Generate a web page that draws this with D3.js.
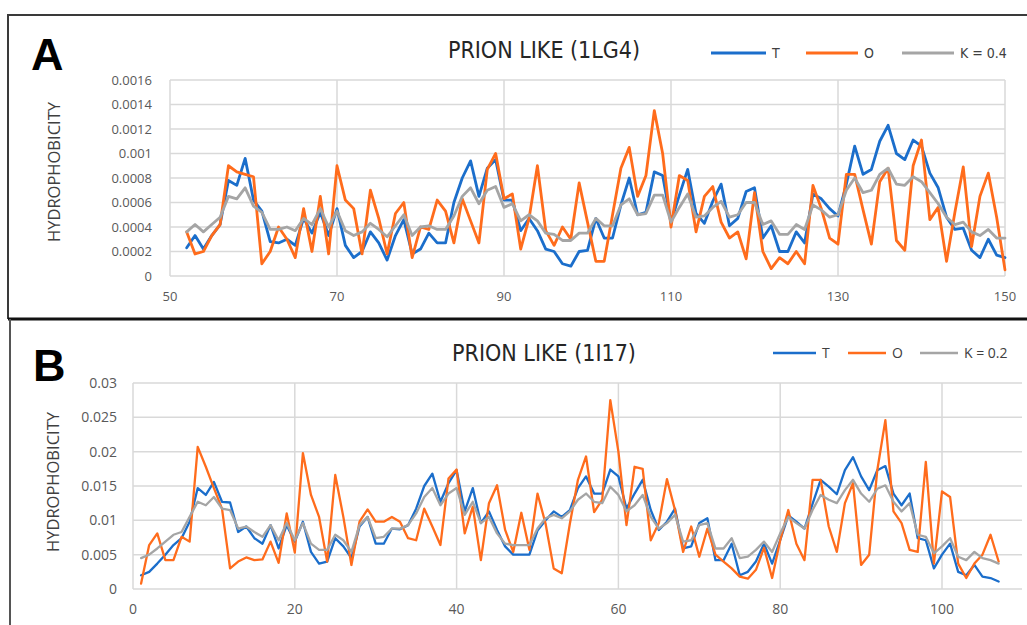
<!DOCTYPE html>
<html>
<head>
<meta charset="utf-8">
<script src="https://cdn.jsdelivr.net/npm/d3@7/dist/d3.min.js"></script>
<style>
  body { margin: 0; background: #fff; }
  svg { display: block; }
</style>
</head>
<body>
<div id="chart"></div>
<script>
// ---- Panel A : PRION LIKE (1LG4) ----
const residuesA = d3.range(52, 151);
const tA = [0.00023, 0.00033, 0.00022, 0.00033, 0.00042, 0.00078, 0.00074, 0.00096, 0.00062, 0.00053,
  0.00028, 0.00027, 0.0003, 0.00025, 0.00047, 0.00035, 0.00052, 0.00033, 0.00055, 0.00025,
  0.00015, 0.0002, 0.00036, 0.00027, 0.00013, 0.00033, 0.00046, 0.00018, 0.00022, 0.00035,
  0.00027, 0.00027, 0.0006, 0.0008, 0.00094, 0.00065, 0.00088, 0.00095, 0.00062, 0.00062,
  0.00037, 0.00047, 0.00037, 0.00022, 0.0002, 0.0001, 0.00008, 0.0002, 0.00021, 0.00047,
  0.00031, 0.00031, 0.00058, 0.0008, 0.0005, 0.00052, 0.00085, 0.00082, 0.00044, 0.00066,
  0.00087, 0.00051, 0.00043, 0.00061, 0.00075, 0.00041, 0.00047, 0.00069, 0.00072, 0.00031,
  0.00041, 0.0002, 0.0002, 0.00036, 0.00027, 0.00067, 0.00063, 0.00055, 0.00049, 0.00075,
  0.00106, 0.00083, 0.00087, 0.0011, 0.00123, 0.001, 0.00095, 0.00111, 0.00106, 0.00084,
  0.00072, 0.00048, 0.00038, 0.00039, 0.00021, 0.00015, 0.0003, 0.00017, 0.00015];
const oA = [0.00036, 0.00018, 0.0002, 0.00033, 0.00042, 0.0009, 0.00085, 0.00083, 0.00081, 0.0001,
  0.0002, 0.0004, 0.0003, 0.00015, 0.00055, 0.0002, 0.00065, 0.00018, 0.0009, 0.00062,
  0.00055, 0.00018, 0.0007, 0.00047, 0.00018, 0.00051, 0.0006, 0.00015, 0.0004, 0.00038,
  0.00062, 0.00053, 0.00027, 0.00063, 0.00045, 0.00027, 0.00087, 0.001, 0.00063, 0.00067,
  0.00022, 0.00047, 0.0009, 0.00037, 0.00025, 0.0004, 0.0003, 0.00076, 0.00044, 0.00012,
  0.00012, 0.0005, 0.00088, 0.00105, 0.00065, 0.00082, 0.00135, 0.001, 0.0004, 0.00082,
  0.00078, 0.00036, 0.00065, 0.00073, 0.00044, 0.00031, 0.00036, 0.00014, 0.00068, 0.0002,
  0.00006, 0.00015, 0.0001, 0.0002, 0.0001, 0.00074, 0.00055, 0.00031, 0.00026, 0.00083,
  0.00083, 0.00054, 0.00026, 0.00077, 0.00088, 0.00029, 0.00021, 0.0009, 0.00111, 0.00046,
  0.00056, 0.00012, 0.00052, 0.00089, 0.00024, 0.00065, 0.00084, 0.00048, 0.00005];
const kA = [0.00036, 0.00042, 0.00036, 0.00042, 0.00048, 0.00065, 0.00063, 0.00072, 0.00057, 0.00052,
  0.00038, 0.00038, 0.0004, 0.00037, 0.00047, 0.00042, 0.00055, 0.0004, 0.00053, 0.00037,
  0.00033, 0.00036, 0.00043, 0.00038, 0.00032, 0.00041, 0.0005, 0.00033, 0.0004, 0.00041,
  0.00038, 0.00038, 0.00049, 0.00065, 0.00072, 0.00059, 0.0007, 0.00073, 0.00056, 0.00059,
  0.00045, 0.0005, 0.00045, 0.00035, 0.00034, 0.00029, 0.00029, 0.00035, 0.00035, 0.00047,
  0.00041, 0.00041, 0.00058, 0.00063, 0.0005, 0.00051, 0.00066, 0.00066, 0.00044, 0.00056,
  0.00067, 0.00048, 0.00049, 0.00056, 0.00061, 0.00048, 0.0005, 0.0006, 0.0006, 0.00042,
  0.00045, 0.00034, 0.00034, 0.00042, 0.00038, 0.00058, 0.00054, 0.00048, 0.0005, 0.0007,
  0.0008, 0.00068, 0.0007, 0.00083, 0.00088, 0.00075, 0.00074, 0.00081, 0.00077, 0.00068,
  0.00059, 0.00048, 0.00042, 0.00044, 0.00036, 0.00033, 0.00038, 0.00031, 0.00031];
const xTicksA = [50, 70, 90, 110, 130, 150];
const yTicksA = [0, 0.0002, 0.0004, 0.0006, 0.0008, 0.001, 0.0012, 0.0014, 0.0016];

// ---- Panel B : PRION LIKE (1I17) ----
const residuesB = d3.range(1, 108);
const tB = [0.002, 0.0025, 0.0037, 0.005, 0.0064, 0.0074, 0.0098, 0.0147, 0.0137, 0.0156,
  0.0127, 0.0126, 0.0083, 0.0091, 0.0074, 0.0066, 0.0093, 0.0059, 0.0093, 0.0069,
  0.0098, 0.0054, 0.0037, 0.004, 0.0074, 0.0062, 0.0045, 0.0091, 0.0105, 0.0066,
  0.0066, 0.0088, 0.0087, 0.0093, 0.0117, 0.015, 0.0168, 0.0127, 0.0154, 0.0173,
  0.0113, 0.0147, 0.0096, 0.0113, 0.0086, 0.0062, 0.005, 0.005, 0.005, 0.0085,
  0.01, 0.0113, 0.0105, 0.0115, 0.0147, 0.0164, 0.0139, 0.0139, 0.0174, 0.0164,
  0.0117, 0.0139, 0.0159, 0.0115, 0.0086, 0.0098, 0.0117, 0.0059, 0.0062, 0.0096,
  0.0103, 0.0042, 0.0042, 0.0066, 0.002, 0.0025, 0.004, 0.0066, 0.0037, 0.0071,
  0.0107, 0.0098, 0.0088, 0.0124, 0.0159, 0.0149, 0.0138, 0.0173, 0.0192, 0.0164,
  0.0144, 0.0173, 0.0179, 0.0139, 0.0122, 0.0139, 0.0074, 0.0071, 0.003, 0.005,
  0.0066, 0.0025, 0.002, 0.0035, 0.0018, 0.0016, 0.0011];
const oB = [0.0008, 0.0064, 0.0081, 0.0042, 0.0042, 0.0076, 0.0069, 0.0207, 0.0178, 0.0147,
  0.0117, 0.003, 0.004, 0.0046, 0.0042, 0.0043, 0.0069, 0.0038, 0.011, 0.0053,
  0.0198, 0.0137, 0.0105, 0.004, 0.0166, 0.0105, 0.0035, 0.0098, 0.0116, 0.0098,
  0.0098, 0.0105, 0.0098, 0.0074, 0.0071, 0.0117, 0.0091, 0.0064, 0.0161, 0.0174,
  0.0081, 0.012, 0.0042, 0.0125, 0.0151, 0.0086, 0.0054, 0.0111, 0.0057, 0.0139,
  0.0095, 0.003, 0.0023, 0.0095, 0.0159, 0.0193, 0.0112, 0.013, 0.0275, 0.02,
  0.0093, 0.0178, 0.0175, 0.0071, 0.0096, 0.016, 0.0115, 0.0054, 0.0091, 0.0047,
  0.0088, 0.005, 0.004, 0.003, 0.0018, 0.0015, 0.0028, 0.006, 0.0016, 0.0071,
  0.0115, 0.0066, 0.0042, 0.0159, 0.0159, 0.0091, 0.0054, 0.0125, 0.0154, 0.0035,
  0.005, 0.0173, 0.0246, 0.0113, 0.0096, 0.0057, 0.0054, 0.0185, 0.0037, 0.0142,
  0.0134, 0.0037, 0.0016, 0.0037, 0.005, 0.0079, 0.004];
const kB = [0.0045, 0.005, 0.0059, 0.0069, 0.0079, 0.0083, 0.0105, 0.0127, 0.0122, 0.0134,
  0.0117, 0.0115, 0.0088, 0.0091, 0.0083, 0.0076, 0.0093, 0.0071, 0.0096, 0.0071,
  0.0096, 0.0066, 0.0057, 0.0057, 0.0079, 0.0071, 0.0054, 0.0093, 0.0105, 0.0074,
  0.0076, 0.0088, 0.0088, 0.0093, 0.011, 0.0134, 0.0147, 0.0122, 0.0139, 0.0147,
  0.0108, 0.0127, 0.0096, 0.0105, 0.0081, 0.0066, 0.0064, 0.0064, 0.0064, 0.0088,
  0.0103, 0.0108, 0.0103, 0.0113, 0.013, 0.0139, 0.0127, 0.0125, 0.0149, 0.0137,
  0.0113, 0.0122, 0.0137, 0.0105, 0.0088, 0.0096, 0.0108, 0.0069, 0.0071, 0.0093,
  0.0096, 0.0059, 0.0059, 0.0074, 0.0045, 0.0047, 0.0057, 0.0069, 0.0054, 0.0081,
  0.0105, 0.0096, 0.0088, 0.0115, 0.0137, 0.013, 0.0125, 0.0144, 0.0159, 0.0139,
  0.0127, 0.0146, 0.0151, 0.0127, 0.0113, 0.0125, 0.0079, 0.0076, 0.0052, 0.0062,
  0.0074, 0.0047, 0.0042, 0.0054, 0.0045, 0.0042, 0.0037];
const xTicksB = [0, 20, 40, 60, 80, 100, 120];
const yTicksB = [0, 0.005, 0.01, 0.015, 0.02, 0.025, 0.03];

const seriesKeys = ['T', 'O', 'K'];
const colors = { T: '#1b6ecb', O: '#ff6c1c', K: '#a5a5a5' };

const width = 1027;
const height = 625;
const tickFont = '"Open Sans", "Liberation Sans", sans-serif';
const narrowFont = '"Liberation Sans Narrow", "DejaVu Sans Condensed", sans-serif';

const svg = d3.select('#chart')
  .append('svg')
  .attr('width', width)
  .attr('height', height);

svg.append('rect')
  .attr('width', width)
  .attr('height', height)
  .attr('fill', '#fff');

// Panel frames (figure borders)
svg.append('path')
  .attr('d', 'M8,319 L8,15 L1027,15')
  .attr('fill', 'none')
  .attr('stroke', '#3a3a3a')
  .attr('stroke-width', 2);

svg.append('line')
  .attr('x1', 8).attr('x2', 1027)
  .attr('y1', 319).attr('y2', 319)
  .attr('stroke', '#111')
  .attr('stroke-width', 3);

svg.append('line')
  .attr('x1', 10).attr('x2', 10)
  .attr('y1', 319).attr('y2', 625)
  .attr('stroke', '#555')
  .attr('stroke-width', 2);

// Draw one panel
const drawPanel = (cfg) => {
  const x = d3.scaleLinear().domain(cfg.xDomain).range([cfg.left, cfg.right]);
  const y = d3.scaleLinear().domain(cfg.yDomain).range([cfg.bottom, cfg.top]);

  const clipId = 'clip-' + cfg.id;
  svg.append('defs').append('clipPath')
    .attr('id', clipId)
    .append('rect')
    .attr('x', 0)
    .attr('y', 0)
    .attr('width', cfg.clipRight)
    .attr('height', height);

  const g = svg.append('g').attr('clip-path', `url(#${clipId})`);

  // horizontal grid
  g.append('g')
    .selectAll('line')
    .data(cfg.yTicks)
    .enter()
    .append('line')
    .attr('x1', cfg.left)
    .attr('x2', cfg.right)
    .attr('y1', d => y(d))
    .attr('y2', d => y(d))
    .attr('stroke', '#d9d9d9')
    .attr('stroke-width', 1.5);

  // vertical grid
  g.append('g')
    .selectAll('line')
    .data(cfg.xTicks)
    .enter()
    .append('line')
    .attr('x1', d => x(d))
    .attr('x2', d => x(d))
    .attr('y1', cfg.top)
    .attr('y2', cfg.bottom)
    .attr('stroke', '#d9d9d9')
    .attr('stroke-width', 1.5);

  // y tick labels
  svg.append('g')
    .selectAll('text')
    .data(cfg.yTicks)
    .enter()
    .append('text')
    .attr('x', cfg.left - cfg.yLabelGap)
    .attr('y', d => y(d))
    .attr('dy', '0.35em')
    .attr('text-anchor', 'end')
    .attr('font-family', tickFont)
    .attr('font-size', cfg.tickSize)
    .attr('fill', '#595959')
    .text(d => d3.format('~g')(d));

  // x tick labels
  svg.append('g')
    .selectAll('text')
    .data(cfg.xTicks.filter(d => x(d) < cfg.clipRight))
    .enter()
    .append('text')
    .attr('x', d => x(d))
    .attr('y', cfg.bottom + cfg.xLabelGap)
    .attr('text-anchor', 'middle')
    .attr('font-family', tickFont)
    .attr('font-size', cfg.tickSize)
    .attr('fill', '#595959')
    .text(d => d);

  // series lines
  const line = d3.line()
    .x(d => x(d[0]))
    .y(d => y(d[1]));

  seriesKeys.forEach(key => {
    const pts = cfg.residues.map((r, i) => [r, cfg.series[key][i]]);
    g.append('path')
      .datum(pts)
      .attr('d', line)
      .attr('fill', 'none')
      .attr('stroke', colors[key])
      .attr('stroke-width', cfg.lineWidth)
      .attr('stroke-linejoin', 'round')
      .attr('stroke-linecap', 'round');
  });

  // axis title
  svg.append('text')
    .attr('transform', `translate(${cfg.yTitleX},${cfg.yTitleY}) rotate(-90)`)
    .attr('text-anchor', 'middle')
    .attr('font-family', tickFont)
    .attr('font-size', 16.5)
    .attr('fill', '#404040')
    .text('HYDROPHOBICITY');

  // chart title
  svg.append('text')
    .attr('x', cfg.titleX)
    .attr('y', cfg.titleY)
    .attr('text-anchor', 'middle')
    .attr('font-family', narrowFont)
    .attr('font-size', 23)
    .attr('fill', '#262626')
    .text(cfg.title);

  // panel letter
  svg.append('text')
    .attr('x', cfg.letterX)
    .attr('y', cfg.letterY)
    .attr('font-family', '"Liberation Sans", Arial, sans-serif')
    .attr('font-weight', 'bold')
    .attr('font-size', 45)
    .attr('fill', '#000')
    .text(cfg.letter);

  // legend
  const leg = svg.append('g');
  cfg.legend.forEach(item => {
    leg.append('line')
      .attr('x1', item.x1)
      .attr('x2', item.x2)
      .attr('y1', cfg.legendY)
      .attr('y2', cfg.legendY)
      .attr('stroke', colors[item.key])
      .attr('stroke-width', cfg.lineWidth);
    leg.append('text')
      .attr('x', item.x2 + 6)
      .attr('y', cfg.legendY)
      .attr('dy', '0.35em')
      .attr('font-family', cfg.legendFont)
      .attr('font-size', cfg.legendSize)
      .attr('fill', '#404040')
      .text(item.label);
  });
};

drawPanel({
  id: 'a',
  letter: 'A', letterX: 31, letterY: 70,
  title: 'PRION LIKE (1LG4)', titleX: 544, titleY: 58,
  residues: residuesA,
  series: { T: tA, O: oA, K: kA },
  xDomain: [50, 150], yDomain: [0, 0.0016],
  xTicks: xTicksA, yTicks: yTicksA,
  left: 170, right: 1005, top: 80, bottom: 276, clipRight: 1027,
  yLabelGap: 18, xLabelGap: 25, tickSize: 13,
  yTitleX: 60, yTitleY: 172, lineWidth: 2.8,
  legendY: 53, legendFont: narrowFont, legendSize: 14,
  legend: [
    { key: 'T', label: 'T', x1: 711, x2: 766 },
    { key: 'O', label: 'O', x1: 806, x2: 858 },
    { key: 'K', label: 'K = 0.4', x1: 902, x2: 954 }
  ]
});

drawPanel({
  id: 'b',
  letter: 'B', letterX: 33, letterY: 381,
  title: 'PRION LIKE (1I17)', titleX: 544, titleY: 361,
  residues: residuesB,
  series: { T: tB, O: oB, K: kB },
  xDomain: [0, 120], yDomain: [0, 0.03],
  xTicks: xTicksB, yTicks: yTicksB,
  left: 133, right: 133 + 120 * 8.09, top: 383, bottom: 589, clipRight: 1022,
  yLabelGap: 16, xLabelGap: 25, tickSize: 14,
  yTitleX: 59, yTitleY: 482, lineWidth: 2.3,
  legendY: 353, legendFont: tickFont, legendSize: 14,
  legend: [
    { key: 'T', label: 'T', x1: 773, x2: 816 },
    { key: 'O', label: 'O', x1: 848, x2: 886 },
    { key: 'K', label: 'K = 0.2', x1: 920, x2: 958 }
  ]
});
</script>
</body>
</html>
